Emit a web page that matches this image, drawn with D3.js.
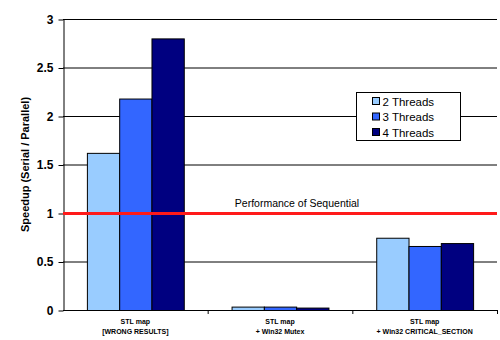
<!DOCTYPE html>
<html>
<head>
<meta charset="utf-8">
<script src="https://cdn.jsdelivr.net/npm/d3@7"></script>
<style>
  body { margin: 0; background: #fff; }
  svg { font-family: 'Liberation Sans', Arial, sans-serif; }
</style>
</head>
<body>
<svg width="500" height="340"></svg>
<script>
const categories = [
  ['STL map', '[WRONG RESULTS]'],
  ['STL map', '+ Win32 Mutex'],
  ['STL map', '+ Win32 CRITICAL_SECTION']
]
const series = ['2 Threads', '3 Threads', '4 Threads']
const colors = ['#99ccff', '#3366ff', '#000080']
const values = [
  [1.62, 2.18, 2.80],
  [0.035, 0.035, 0.025],
  [0.745, 0.66, 0.69]
]
const yTicks = [0, 0.5, 1, 1.5, 2, 2.5, 3]
const sequential = 1

const svg = d3.select('svg')
const plotLeft = 63, plotRight = 497, plotTop = 19, plotBottom = 310

const x0 = d3.scaleBand().domain(d3.range(categories.length)).range([plotLeft, plotRight])
const x1 = d3.scaleBand().domain(series).range([0, x0.bandwidth()]).paddingOuter(0.74)
const y = d3.scaleLinear().domain([0, 3]).range([plotBottom, plotTop])

// gridlines
svg.append('g').selectAll('line').data(yTicks.slice(1)).enter().append('line')
  .attr('x1', plotLeft).attr('x2', plotRight)
  .attr('y1', d => y(d) + 0.5).attr('y2', d => y(d) + 0.5)
  .attr('stroke', '#000').attr('stroke-width', 1)

// bars
const groups = svg.append('g').selectAll('g').data(values).enter().append('g')
  .attr('transform', (d, i) => `translate(${x0(i)},0)`)
groups.selectAll('rect').data(d => d.map((v, j) => ({ v, j }))).enter().append('rect')
  .attr('x', d => x1(series[d.j]) + 0.5)
  .attr('y', d => y(d.v) + 0.5)
  .attr('width', x1.bandwidth())
  .attr('height', d => y(0) - y(d.v))
  .attr('fill', d => colors[d.j])
  .attr('stroke', '#000').attr('stroke-width', 1)

// y axis
const yAxis = svg.append('g').attr('transform', `translate(${plotLeft + 0.5},0.5)`)
  .call(d3.axisLeft(y).tickValues(yTicks).tickSize(5).tickSizeOuter(0).tickFormat(d => d))
yAxis.select('.domain').attr('stroke', '#000')
yAxis.selectAll('text').attr('font-size', 12).attr('font-weight', 'bold').attr('fill', '#000').attr('x', -10)

// x axis baseline and category ticks
svg.append('line').attr('x1', plotLeft).attr('x2', plotRight)
  .attr('y1', plotBottom + 0.5).attr('y2', plotBottom + 0.5).attr('stroke', '#000')
svg.append('g').selectAll('line').data(d3.range(1, categories.length + 1)).enter().append('line')
  .attr('x1', d => (d < categories.length ? x0(d) : plotRight) + 0.5)
  .attr('x2', d => (d < categories.length ? x0(d) : plotRight) + 0.5)
  .attr('y1', plotBottom).attr('y2', plotBottom + 4).attr('stroke', '#000')

const catText = svg.append('g').selectAll('text').data(categories).enter().append('text')
  .attr('text-anchor', 'middle').attr('font-size', 7).attr('font-weight', 'bold')
  .attr('transform', (d, i) => `translate(${x0(i) + x0.bandwidth() / 2},324)`)
catText.selectAll('tspan').data(d => d).enter().append('tspan')
  .attr('x', 0).attr('dy', (d, i) => i ? 10 : 0).text(d => d)

// y title
svg.append('text')
  .attr('transform', `translate(29,${(plotTop + plotBottom) / 2}) rotate(-90)`)
  .attr('text-anchor', 'middle').attr('font-size', 11).attr('font-weight', 'bold')
  .text('Speedup (Serial / Parallel)')

// sequential line
svg.append('line').attr('x1', plotLeft).attr('x2', plotRight)
  .attr('y1', y(sequential) + 0.5).attr('y2', y(sequential) + 0.5)
  .attr('stroke', '#ff1a1a').attr('stroke-width', 3)
svg.append('text').attr('x', 297).attr('y', y(sequential) - 6)
  .attr('text-anchor', 'middle').attr('font-size', 10.5).text('Performance of Sequential')

// legend
const legend = svg.append('g').attr('transform', 'translate(356.5,92.5)')
legend.append('rect').attr('width', 104).attr('height', 48)
  .attr('fill', '#fff').attr('stroke', '#000')
const items = legend.selectAll('g').data(series).enter().append('g')
  .attr('transform', (d, i) => `translate(16,${5 + i * 15.5})`)
items.append('rect').attr('width', 7).attr('height', 7)
  .attr('fill', (d, i) => colors[i]).attr('stroke', '#000')
items.append('text').attr('x', 10).attr('y', 8).attr('font-size', 11.5).text(d => d)
</script>
</body>
</html>
